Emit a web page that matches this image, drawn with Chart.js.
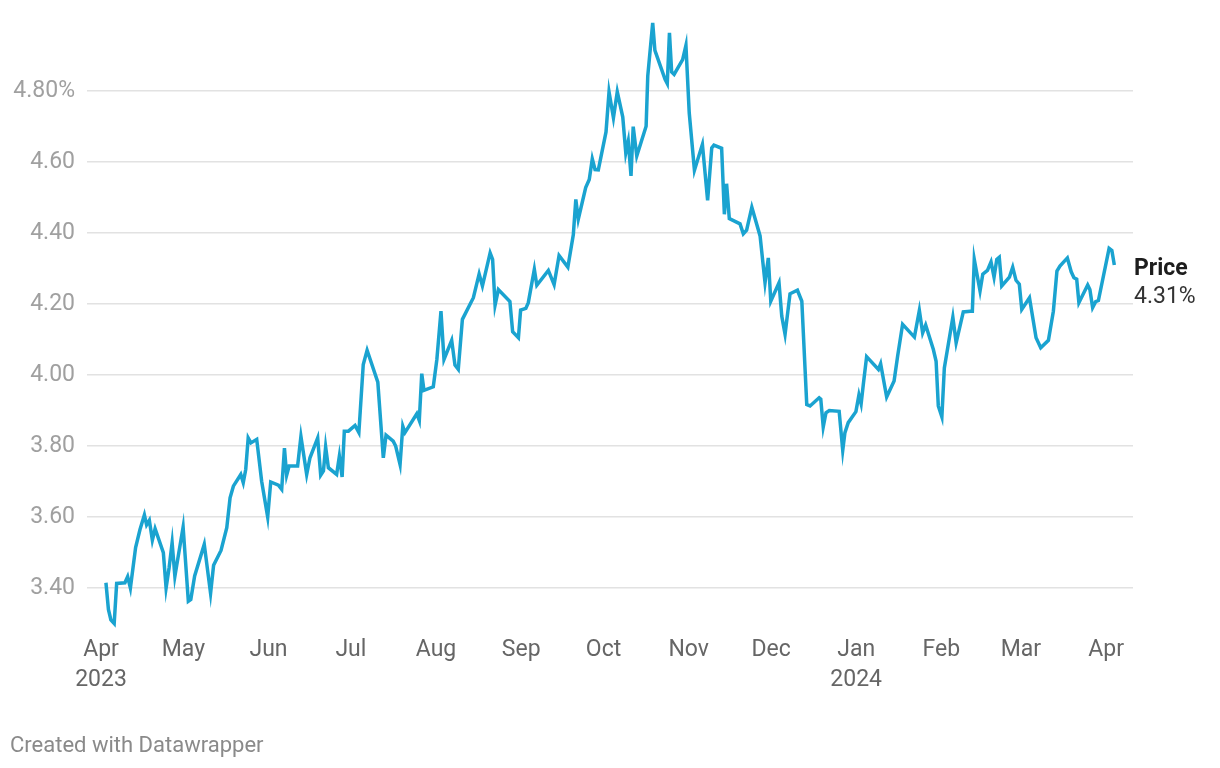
<!DOCTYPE html>
<html>
<head>
<meta charset="utf-8">
<script src="https://cdn.jsdelivr.net/npm/chart.js@4"></script>
<style>
  html, body { margin: 0; padding: 0; background: #fff; }
  #wrap { position: relative; width: 1220px; height: 768px; }
  #footer {
    position: absolute; left: 10px; top: 732px;
    font: 22px/26px Roboto, sans-serif; color: #8a8a8a;
  }
</style>
</head>
<body>
<div id="wrap">
  <canvas id="chart" width="1220" height="768"></canvas>
  <div id="footer">Created with Datawrapper</div>
</div>
<script>
// days counted from 1 Apr 2023
var days = [1.8, 2.7, 3.6, 4.8, 5.7, 8.7, 9.7, 10.7, 12.6, 14.2, 15.8, 16.6, 17.6, 18.7, 19.7, 22.7, 23.7, 24.8, 25.9, 26.9,
  29.9, 31.8, 32.7, 34.1, 37.6, 39.9, 41.0, 43.7, 45.8, 47.0, 48.2, 50.9, 51.8, 52.7, 53.6, 54.6, 56.7, 58.5, 60.7, 61.8,
  64.6, 65.8, 66.8, 67.6, 68.5, 71.6, 72.8, 74.9, 76.1, 78.9, 80.0, 81.0, 81.8, 82.8, 85.8, 86.8, 87.8, 88.6, 90.1, 92.5,
  93.9, 95.5, 96.9, 100.8, 102.8, 103.8, 106.4, 107.3, 108.9, 109.9, 110.7, 115.0, 115.9, 116.8, 117.6, 121.0, 122.3, 123.8, 124.9, 127.7,
  128.9, 130.1, 131.6, 135.6, 137.7, 138.9, 141.7, 142.6, 143.5, 144.7, 148.9, 149.9, 152.0, 152.8, 154.7, 155.6, 157.8, 158.7, 162.9, 165.0,
  166.8, 170.0, 172.0, 172.9, 173.8, 176.5, 177.8, 178.9, 179.9, 181.1, 183.9, 185.0, 186.6, 188.0, 190.0, 191.1, 192.0, 193.0, 193.8, 195.1,
  198.5, 199.1, 200.9, 201.7, 205.4, 206.2, 207.0, 207.8, 208.7, 211.8, 213.0, 214.2, 216.1, 219.0, 220.9, 222.4, 223.2, 226.0, 227.0, 227.8,
  228.8, 232.7, 233.9, 235.1, 237.0, 240.0, 241.8, 243.0, 243.9, 246.9, 247.9, 249.1, 250.9, 253.6, 255.2, 257.0, 258.2, 261.5, 262.1, 263.0,
  264.0, 265.2, 268.8, 270.1, 270.9, 272.1, 274.9, 276.0, 276.8, 277.6, 278.8, 283.1, 283.9, 286.1, 288.8, 290.1, 291.9, 296.2, 298.0, 299.2,
  300.3, 303.1, 304.1, 304.9, 306.2, 307.1, 310.2, 311.4, 314.0, 316.5, 317.3, 318.0, 320.1, 321.1, 322.8, 324.1, 325.2, 326.2, 327.1, 328.0,
  330.8, 332.0, 333.2, 334.4, 335.3, 338.1, 340.5, 342.2, 345.0, 346.8, 348.1, 349.2, 351.9, 353.3, 354.3, 355.3, 356.1, 359.3, 360.1, 361.1,
  362.2, 363.2, 367.1, 368.1, 369.0];

var yields = [3.415, 3.34, 3.31, 3.30, 3.413, 3.415, 3.432, 3.40, 3.514, 3.565, 3.606, 3.578, 3.591, 3.535, 3.567, 3.50, 3.40, 3.457, 3.528, 3.433,
  3.572, 3.363, 3.368, 3.434, 3.523, 3.385, 3.464, 3.506, 3.57, 3.654, 3.687, 3.72, 3.697, 3.734, 3.823, 3.809, 3.819, 3.701, 3.60, 3.699,
  3.69, 3.678, 3.794, 3.718, 3.744, 3.744, 3.827, 3.72, 3.767, 3.823, 3.718, 3.73, 3.798, 3.739, 3.72, 3.772, 3.713, 3.842, 3.842, 3.858,
  3.838, 4.03, 4.07, 3.98, 3.767, 3.831, 3.814, 3.80, 3.748, 3.856, 3.838, 3.891, 3.872, 4.004, 3.957, 3.967, 4.044, 4.18, 4.044, 4.098,
  4.028, 4.016, 4.157, 4.218, 4.285, 4.251, 4.344, 4.326, 4.197, 4.241, 4.207, 4.122, 4.105, 4.183, 4.188, 4.204, 4.298, 4.253, 4.295, 4.255,
  4.337, 4.304, 4.396, 4.495, 4.439, 4.528, 4.551, 4.609, 4.579, 4.578, 4.685, 4.798, 4.725, 4.798, 4.727, 4.626, 4.659, 4.561, 4.70, 4.617,
  4.701, 4.842, 4.992, 4.915, 4.833, 4.821, 4.964, 4.854, 4.847, 4.889, 4.929, 4.739, 4.577, 4.65, 4.492, 4.64, 4.648, 4.639, 4.453, 4.539,
  4.441, 4.426, 4.398, 4.408, 4.473, 4.392, 4.26, 4.33, 4.208, 4.26, 4.166, 4.115, 4.229, 4.239, 4.208, 3.917, 3.913, 3.936, 3.932, 3.854,
  3.894, 3.90, 3.898, 3.788, 3.838, 3.866, 3.897, 3.944, 3.919, 3.974, 4.052, 4.016, 4.032, 3.938, 3.983, 4.054, 4.143, 4.107, 4.182, 4.119,
  4.141, 4.072, 4.039, 3.913, 3.882, 4.02, 4.163, 4.091, 4.178, 4.18, 4.18, 4.326, 4.237, 4.284, 4.295, 4.319, 4.276, 4.326, 4.332, 4.251,
  4.276, 4.304, 4.267, 4.256, 4.185, 4.218, 4.105, 4.077, 4.098, 4.18, 4.293, 4.307, 4.33, 4.291, 4.274, 4.27, 4.204, 4.254, 4.241, 4.19,
  4.207, 4.21, 4.357, 4.351, 4.31];

var monthTickDays = [0, 30, 61, 91, 122, 153, 183, 214, 244, 275, 306, 335, 366];
var monthTickLabels = [['Apr', '2023'], 'May', 'Jun', 'Jul', 'Aug', 'Sep', 'Oct', 'Nov', 'Dec', ['Jan', '2024'], 'Feb', 'Mar', 'Apr'];
var yTicks = [3.4, 3.6, 3.8, 4.0, 4.2, 4.4, 4.6, 4.8];
var seriesName = 'Price';

var points = days.map(function (d, i) { return { x: d, y: yields[i] }; });

var endLabel = {
  id: 'endLabel',
  afterDatasetsDraw: function (chart) {
    var ctx = chart.ctx;
    var last = yields[yields.length - 1];
    var py = chart.scales.y.getPixelForValue(last);
    var px = chart.chartArea.right + 1;
    ctx.save();
    ctx.textAlign = 'left';
    ctx.textBaseline = 'middle';
    ctx.fillStyle = '#1d1d1d';
    ctx.font = 'bold 23px Roboto, sans-serif';
    ctx.fillText(seriesName, px, py + 4);
    ctx.fillStyle = '#333';
    ctx.font = '23px Roboto, sans-serif';
    ctx.fillText(last.toFixed(2) + '%', px, py + 32);
    ctx.restore();
  }
};

new Chart(document.getElementById('chart'), {
  type: 'line',
  data: {
    datasets: [{
      label: seriesName,
      data: points,
      borderColor: '#1aa3d0',
      borderWidth: 3.5,
      pointRadius: 0,
      tension: 0,
      fill: false,
      clip: false
    }]
  },
  options: {
    responsive: false,
    animation: false,
    layout: { padding: { top: 9, right: 87, bottom: 75, left: 0 } },
    plugins: { legend: { display: false }, tooltip: { enabled: false } },
    scales: {
      x: {
        type: 'linear',
        min: -5.1,
        max: 375.8,
        afterBuildTicks: function (scale) {
          scale.ticks = monthTickDays.map(function (v) { return { value: v }; });
        },
        afterFit: function (scale) { scale.height = 62; },
        grid: { display: false, drawTicks: false },
        border: { display: false },
        ticks: {
          autoSkip: false,
          maxRotation: 0,
          padding: 4,
          color: '#666',
          font: { family: 'Roboto', size: 23, lineHeight: 1.3 },
          callback: function (v) {
            var i = monthTickDays.indexOf(v);
            return i >= 0 ? monthTickLabels[i] : '';
          }
        }
      },
      y: {
        min: 3.279,
        max: 4.984,
        afterBuildTicks: function (scale) {
          scale.ticks = yTicks.map(function (v) { return { value: v }; });
        },
        afterFit: function (scale) { scale.width = 87; },
        grid: { color: '#e2e2e2', lineWidth: 1.5, drawTicks: false },
        border: { display: false },
        ticks: {
          padding: 12,
          color: '#a0a0a0',
          font: { family: 'Roboto', size: 23 },
          callback: function (v) {
            var s = v.toFixed(2);
            return v === yTicks[yTicks.length - 1] ? s + '%' : s;
          }
        }
      }
    }
  },
  plugins: [endLabel]
});
</script>
</body>
</html>
